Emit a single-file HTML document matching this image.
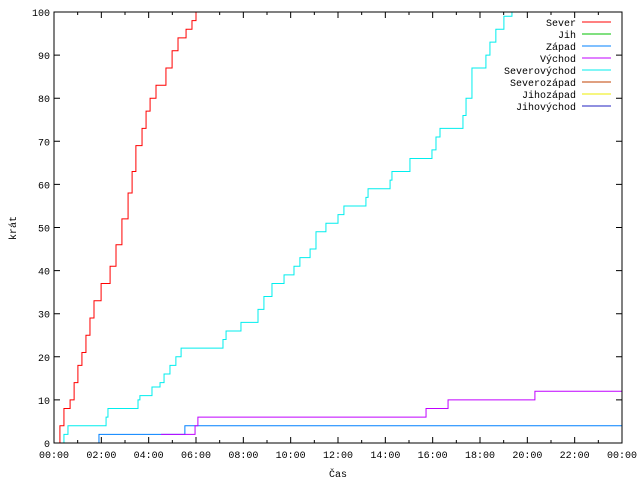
<!DOCTYPE html>
<html><head><meta charset="utf-8"><style>
body{margin:0;background:#fff}
svg{display:block;font-family:"Liberation Mono","DejaVu Sans Mono",monospace;font-size:10px}
</style></head><body>
<svg id="c" width="640" height="480">
<rect width="640" height="480" fill="#fff"/>
<g id="grid"></g>
<g id="series"></g>
<rect x="54" y="12" width="568" height="431" fill="none" stroke="#000"/>
<text x="16" y="228" transform="rotate(-90 16 228)" text-anchor="middle">krát</text>
<text x="338" y="477" text-anchor="middle">Čas</text>
<g id="legend"></g>
</svg>
<script>
const seriesNames=["Sever","Jih","Západ","Východ","Severovýchod","Severozápad","Jihozápad","Jihovýchod"];
const seriesColors=["#ff0000","#00c000","#0080ff","#c000ff","#00eeee","#c04000","#eeee00","#2020c0"];
const xTickLabels=["00:00","02:00","04:00","06:00","08:00","10:00","12:00","14:00","16:00","18:00","20:00","22:00","00:00"];
const yTicks=[0,10,20,30,40,50,60,70,80,90,100];
const redT=[0.13,0.25,0.42,0.68,0.85,1.01,1.18,1.35,1.52,1.69,1.99,2.37,2.62,2.87,3.13,3.3,3.46,3.72,3.89,4.06,4.31,4.73,4.99,5.24,5.58,5.83,6.0];
const redV=[0,4,8,10,14,18,21,25,29,33,37,41,46,52,58,63,69,73,77,80,83,87,91,94,96,98,100];
const cyanT=[0.25,0.42,0.59,2.2,2.28,3.55,3.63,4.14,4.48,4.65,4.9,5.15,5.37,7.14,7.27,7.9,8.62,8.87,9.21,9.72,10.14,10.39,10.82,11.07,11.49,12.0,12.25,13.18,13.27,14.2,14.28,15.04,15.97,16.14,16.31,17.28,17.41,17.66,18.25,18.42,18.67,19.01,19.35];
const cyanV=[0,2,4,6,8,10,11,13,14,16,18,20,22,24,26,28,31,34,37,39,41,43,45,49,51,53,55,57,59,61,63,66,68,71,73,76,80,87,90,93,96,99,100];
const blueT=[0,1.9,5.53,24];
const blueV=[0,2,4,4];
const purpleT=[4.52,5.96,6.08,15.72,16.65,20.32,24];
const purpleV=[2,4,6,8,10,12,12];
const X0=54,X1=622,Y0=443,Y1=12;
const xs=h=>X0+(X1-X0)*h/24;
const ys=v=>Y0-(Y0-Y1)*v/100;
const NS="http://www.w3.org/2000/svg";
function mk(tag,attrs,parent){const e=document.createElementNS(NS,tag);for(const k in attrs)e.setAttribute(k,attrs[k]);parent.appendChild(e);return e;}
const g=document.getElementById('grid');
yTicks.forEach(v=>{
 const y=ys(v);
 const l=mk('path',{d:`M${X0} ${y}h6M${X1} ${y}h-6`,stroke:'#000'},g);
 
 
 const t=mk('text',{x:X0-4,y:y+4,'text-anchor':'end'},g);t.textContent=v;
 
 
});
for(let h=0;h<=24;h++){
 const x=xs(h),len=h%2?3:6;
 const l=mk('path',{d:`M${x} ${Y0}v-${len}M${x} ${Y1}v${len}`,stroke:'#000'},g);
 
 
 if(h%2===0){const t=mk('text',{x:x,y:Y0+15,'text-anchor':'middle'},g);t.textContent=xTickLabels[h/2];
 
 }
}
const s=document.getElementById('series');
function step(T,V,color,name){
 let d=`M${xs(T[0])} ${ys(V[0])}`;
 for(let i=1;i<T.length;i++){d+=`L${xs(T[i])} ${ys(V[i-1])}L${xs(T[i])} ${ys(V[i])}`;}
 const p=mk('path',{d:d,fill:'none',stroke:color,'stroke-width':1},s);
 
 
}
step(blueT,blueV,seriesColors[2],'series-zapad');
step(purpleT,purpleV,seriesColors[3],'series-vychod');
step(cyanT,cyanV,seriesColors[4],'series-severovychod');
step(redT,redV,seriesColors[0],'series-sever');
const lg=document.getElementById('legend');
seriesNames.forEach((n,i)=>{
 const y=22+i*12;
 const t=mk('text',{x:576,y:y+4,'text-anchor':'end'},lg);t.textContent=n;
 
 
 const l=mk('line',{x1:582,x2:611,y1:y,y2:y,stroke:seriesColors[i]},lg);
 
 
});
</script>
</body></html>
